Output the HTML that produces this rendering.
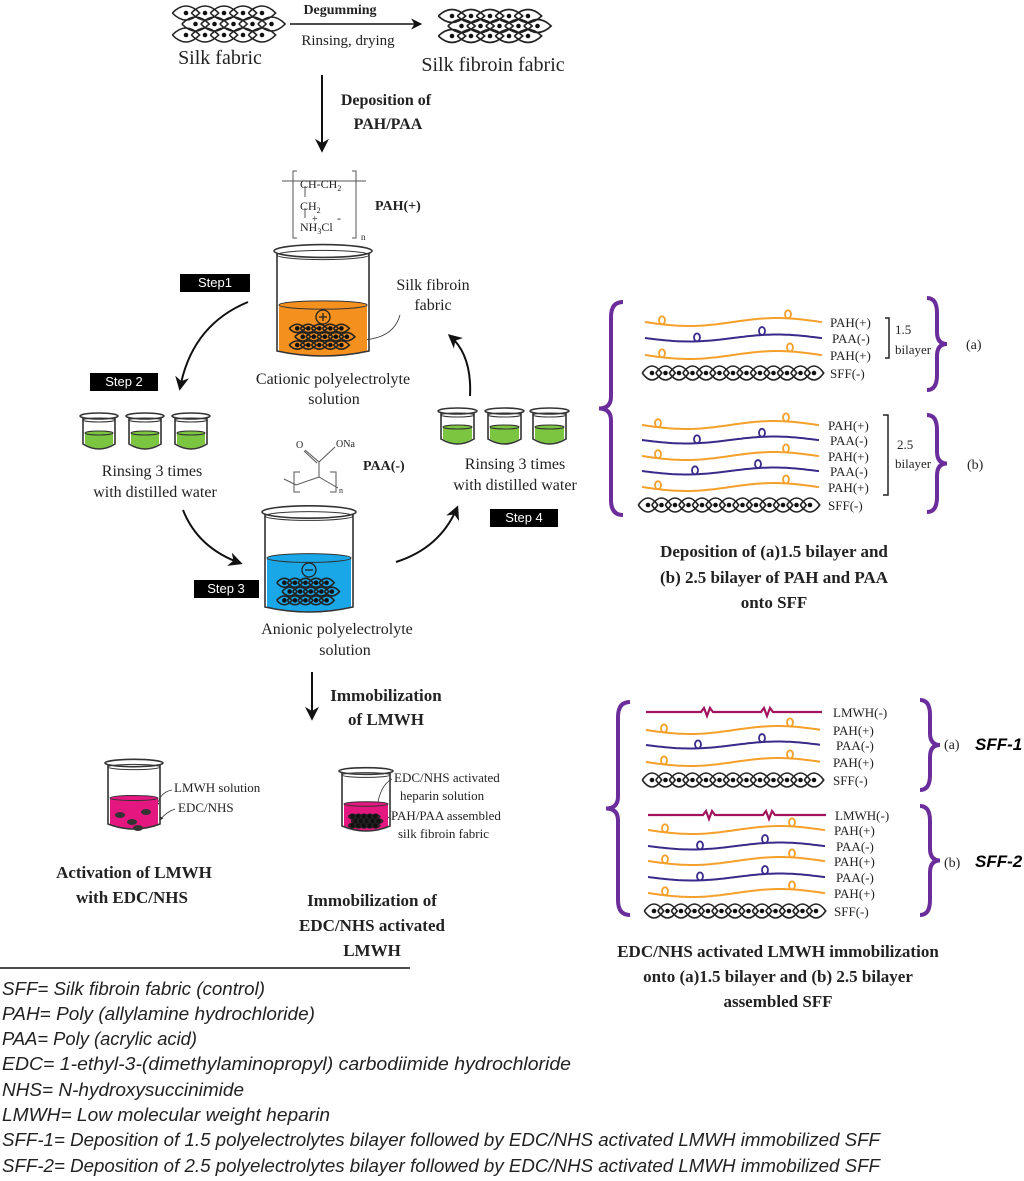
<!DOCTYPE html>
<html><head><meta charset="utf-8"><style>
html,body{margin:0;padding:0;background:#fff;}
svg{display:block;}
.s{font-family:"Liberation Serif",serif;fill:#222;}
.b{font-weight:bold;}
.it{font-family:"Liberation Sans",sans-serif;font-style:italic;fill:#222;font-size:18px;}
.st{font-family:"Liberation Sans",sans-serif;fill:#fff;font-size:13px;}
</style></head><body>
<svg id="g" width="1024" height="1181" viewBox="0 0 1024 1181" xmlns="http://www.w3.org/2000/svg">
<defs>
<marker id="ah" viewBox="0 0 10 10" refX="8" refY="5" markerWidth="7" markerHeight="7" orient="auto-start-reverse"><path d="M0,0 L10,5 L0,10 L3,5z" fill="#111"/></marker>
<marker id="ahs" viewBox="0 0 10 10" refX="8" refY="5" markerWidth="5" markerHeight="5" orient="auto"><path d="M0,1 L10,5 L0,9z" fill="#222"/></marker>
</defs>

<text class="s" x="220" y="64" font-size="20" text-anchor="middle">Silk fabric</text>
<line x1="290" y1="24" x2="420" y2="24" stroke="#111" stroke-width="1.6" marker-end="url(#ah)"/>
<text class="s b" x="340" y="14" font-size="14" text-anchor="middle">Degumming</text>
<text class="s" x="348" y="45" font-size="15" text-anchor="middle">Rinsing, drying</text>
<text class="s" x="493" y="71" font-size="20" text-anchor="middle">Silk fibroin fabric</text>

<line x1="322" y1="75" x2="322" y2="150" stroke="#111" stroke-width="2" marker-end="url(#ah)"/>
<text class="s b" x="386" y="105" font-size="16" text-anchor="middle">Deposition of</text>
<text class="s b" x="388" y="129" font-size="16" text-anchor="middle">PAH/PAA</text>

<g stroke="#555" fill="none" stroke-width="1">
<path d="M282,181 H366"/><path d="M297,171 H293 V238 H297"/><path d="M352,171 H356 V238 H352"/>
<path d="M305,186 V197"/><path d="M305,208 V218"/>
</g>
<text class="s" x="300" y="188" font-size="12">CH-CH<tspan font-size="8" dy="3">2</tspan></text>
<text class="s" x="300" y="210" font-size="12">CH<tspan font-size="8" dy="3">2</tspan></text>
<text class="s" x="300" y="231" font-size="12">NH<tspan font-size="8" dy="3">3</tspan><tspan dy="-3">Cl</tspan></text>
<text class="s" x="312" y="222" font-size="10">+</text><text class="s" x="337" y="222" font-size="12">-</text>
<text class="s" x="361" y="240" font-size="9">n</text>
<text class="s b" x="375" y="210" font-size="14">PAH(+)</text>

<rect x="180" y="274" width="70" height="18" fill="#000"/><text class="st" x="215" y="287" text-anchor="middle">Step1</text>
<rect x="90" y="373" width="68" height="18" fill="#000"/><text class="st" x="124" y="386" text-anchor="middle">Step 2</text>
<rect x="194" y="580" width="65" height="18" fill="#000"/><text class="st" x="226" y="593" text-anchor="middle">Step 3</text>
<rect x="490" y="509" width="68" height="18" fill="#000"/><text class="st" x="524" y="522" text-anchor="middle">Step 4</text>

<g fill="none" stroke="#111" stroke-width="2">
<path d="M248,302 Q192,325 180,388" marker-end="url(#ah)"/>
<path d="M183,510 Q198,548 240,563" marker-end="url(#ah)"/>
<path d="M396,562 Q440,548 457,508" marker-end="url(#ah)"/>
<path d="M470,396 Q472,355 450,336" marker-end="url(#ah)"/>
</g>

<text class="s" x="333" y="384" font-size="16" text-anchor="middle">Cationic polyelectrolyte</text>
<text class="s" x="334" y="404" font-size="16" text-anchor="middle">solution</text>
<text class="s" x="433" y="290" font-size="16" text-anchor="middle">Silk fibroin</text>
<text class="s" x="433" y="310" font-size="16" text-anchor="middle">fabric</text>
<path d="M400,315 Q393,340 358,340" fill="none" stroke="#333" stroke-width="0.8" marker-end="url(#ahs)"/>

<text class="s" x="152" y="476" font-size="16" text-anchor="middle">Rinsing 3 times</text>
<text class="s" x="155" y="497" font-size="16" text-anchor="middle">with distilled water</text>
<text class="s" x="515" y="469" font-size="16" text-anchor="middle">Rinsing 3 times</text>
<text class="s" x="515" y="490" font-size="16" text-anchor="middle">with distilled water</text>

<g stroke="#555" fill="none" stroke-width="1">
<path d="M284,479 L296,485 L319,477 L338,488"/><path d="M300,472 H294 V492 H300"/><path d="M330,472 H336 V492 H330"/>
<path d="M319,477 V462 L305,450"/><path d="M317,463 L304,451"/><path d="M319,462 L335,447"/>
</g>
<text class="s" x="296" y="448" font-size="10">O</text><text class="s" x="336" y="447" font-size="10">ONa</text>
<text class="s" x="339" y="493" font-size="8">n</text>
<text class="s b" x="363" y="470" font-size="14">PAA(-)</text>

<text class="s" x="337" y="634" font-size="16" text-anchor="middle">Anionic polyelectrolyte</text>
<text class="s" x="345" y="655" font-size="16" text-anchor="middle">solution</text>

<line x1="312" y1="672" x2="312" y2="718" stroke="#111" stroke-width="2" marker-end="url(#ah)"/>
<text class="s b" x="386" y="701" font-size="17" text-anchor="middle">Immobilization</text>
<text class="s b" x="386" y="725" font-size="17" text-anchor="middle">of LMWH</text>

<text class="s" x="174" y="792" font-size="13">LMWH solution</text>
<text class="s" x="178" y="812" font-size="13">EDC/NHS</text>
<path d="M172,790 Q160,792 157,806" fill="none" stroke="#333" stroke-width="0.8" marker-end="url(#ahs)"/>
<path d="M175,809 Q166,812 160,820" fill="none" stroke="#333" stroke-width="0.8" marker-end="url(#ahs)"/>
<text class="s" x="394" y="782" font-size="13">EDC/NHS activated</text>
<text class="s" x="400" y="800" font-size="13">heparin solution</text>
<text class="s" x="391" y="820" font-size="13">PAH/PAA assembled</text>
<text class="s" x="398" y="838" font-size="13">silk fibroin fabric</text>
<path d="M392,779 Q380,785 377,808" fill="none" stroke="#333" stroke-width="0.8" marker-end="url(#ahs)"/>
<path d="M389,817 Q385,820 380,824" fill="none" stroke="#333" stroke-width="0.8"/>

<text class="s b" x="134" y="878" font-size="17" text-anchor="middle">Activation of LMWH</text>
<text class="s b" x="132" y="903" font-size="17" text-anchor="middle">with EDC/NHS</text>
<text class="s b" x="372" y="906" font-size="17" text-anchor="middle">Immobilization of</text>
<text class="s b" x="372" y="931" font-size="17" text-anchor="middle">EDC/NHS activated</text>
<text class="s b" x="372" y="956" font-size="17" text-anchor="middle">LMWH</text>

<line x1="0" y1="968" x2="410" y2="968" stroke="#111" stroke-width="1.5"/>
<text class="it" x="2" y="995" textLength="263" lengthAdjust="spacingAndGlyphs">SFF= Silk fibroin fabric (control)</text>
<text class="it" x="2" y="1020" textLength="313" lengthAdjust="spacingAndGlyphs">PAH= Poly (allylamine hydrochloride)</text>
<text class="it" x="2" y="1045" textLength="195" lengthAdjust="spacingAndGlyphs">PAA= Poly (acrylic acid)</text>
<text class="it" x="2" y="1070" textLength="569" lengthAdjust="spacingAndGlyphs">EDC= 1-ethyl-3-(dimethylaminopropyl) carbodiimide hydrochloride</text>
<text class="it" x="2" y="1096" textLength="242" lengthAdjust="spacingAndGlyphs">NHS= N-hydroxysuccinimide</text>
<text class="it" x="2" y="1121" textLength="328" lengthAdjust="spacingAndGlyphs">LMWH= Low molecular weight heparin</text>
<text class="it" x="2" y="1146" textLength="878" lengthAdjust="spacingAndGlyphs">SFF-1= Deposition of 1.5  polyelectrolytes bilayer followed by EDC/NHS activated LMWH immobilized SFF</text>
<text class="it" x="2" y="1172" textLength="878" lengthAdjust="spacingAndGlyphs">SFF-2= Deposition of 2.5  polyelectrolytes bilayer followed by EDC/NHS activated LMWH immobilized SFF</text>

<g class="s" font-size="13">
<text x="830" y="327">PAH(+)</text><text x="832" y="343">PAA(-)</text><text x="830" y="360">PAH(+)</text><text x="830" y="378">SFF(-)</text>
<text x="828" y="430">PAH(+)</text><text x="830" y="445">PAA(-)</text><text x="828" y="461">PAH(+)</text><text x="830" y="476">PAA(-)</text><text x="828" y="492">PAH(+)</text><text x="828" y="510">SFF(-)</text>
<text x="895" y="334">1.5</text><text x="895" y="354">bilayer</text>
<text x="897" y="449">2.5</text><text x="895" y="468">bilayer</text>
<text x="966" y="349" font-size="14">(a)</text><text x="967" y="469" font-size="14">(b)</text>
<text x="833" y="717">LMWH(-)</text><text x="833" y="735">PAH(+)</text><text x="836" y="750">PAA(-)</text><text x="833" y="767">PAH(+)</text><text x="833" y="785">SFF(-)</text>
<text x="835" y="820">LMWH(-)</text><text x="834" y="835">PAH(+)</text><text x="836" y="851">PAA(-)</text><text x="834" y="866">PAH(+)</text><text x="836" y="882">PAA(-)</text><text x="834" y="898">PAH(+)</text><text x="834" y="916">SFF(-)</text>
<text x="944" y="749" font-size="14">(a)</text><text x="944" y="867" font-size="14">(b)</text>
</g>
<text x="975" y="750" font-family="Liberation Sans,sans-serif" font-weight="bold" font-style="italic" font-size="17">SFF-1</text>
<text x="975" y="867" font-family="Liberation Sans,sans-serif" font-weight="bold" font-style="italic" font-size="17">SFF-2</text>
<path d="M885,318 H889 V358 H885 M883,415 H888 V495 H883" fill="none" stroke="#222" stroke-width="1.5"/>

<g class="s b" font-size="17" text-anchor="middle">
<text x="774" y="557">Deposition of (a)1.5 bilayer and</text>
<text x="774" y="583">(b) 2.5 bilayer of PAH and PAA</text>
<text x="774" y="608">onto SFF</text>
<text x="778" y="957">EDC/NHS activated LMWH immobilization</text>
<text x="778" y="982">onto (a)1.5 bilayer and (b) 2.5 bilayer</text>
<text x="778" y="1007">assembled SFF</text>
</g>
<g id="dyn"></g>
</svg>
<script>
var NS="http://www.w3.org/2000/svg",D=document.getElementById("dyn");
function el(t,a){var e=document.createElementNS(NS,t);for(var k in a)e.setAttribute(k,a[k]);D.appendChild(e);return e;}
function wave(x0,x1,y,col,loops,amp){var d="M"+x0+","+y;for(var x=x0;x<=x1;x+=3){d+=" L"+x+","+(y+amp*Math.sin((x-x0)/28)).toFixed(1);}
el("path",{d:d,fill:"none",stroke:col,"stroke-width":2});
loops.forEach(function(lx){var ly=y+amp*Math.sin((lx-x0)/28);el("ellipse",{cx:lx,cy:ly-4,rx:3,ry:4,fill:"none",stroke:col,"stroke-width":1.8});});}
function lmwh(x0,x1,y){var c="#a3135e";var d="M"+x0+","+y+" L"+(x0+55)+","+y+" l3,-4 l3,8 l3,-8 l3,4 L"+(x0+115)+","+y+" l3,-4 l3,8 l3,-8 l3,4 L"+x1+","+y;el("path",{d:d,fill:"none",stroke:c,"stroke-width":2.2});}
function chain(x0,n,y,w,hh){hh=hh||14;for(var i=0;i<n;i++){var cx=x0+i*w;el("path",{d:"M"+(cx-w*0.72)+","+y+" Q"+cx+","+(y-hh)+" "+(cx+w*0.72)+","+y+" Q"+cx+","+(y+hh)+" "+(cx-w*0.72)+","+y,fill:"none",stroke:"#222","stroke-width":1.6});el("circle",{cx:cx,cy:y,r:2.3,fill:"#111"});}}
function fabric(x0,y0,nx,ny,w,h,hh){for(var j=0;j<ny;j++)chain(x0+(j%2?w/2:0),nx,y0+j*h,w,hh);}
var O="#f5a02a",B="#3a2a8a";
fabric(186,13,5,3,19,11,14);fabric(452,16,5,3,19,10,13);
wave(645,822,322,O,[662,788],4);wave(645,822,338,B,[697,762],3.5);wave(645,822,355,O,[662,790],4);chain(652,13,373,13.5);
wave(642,820,425,O,[658,786],4);wave(642,820,440,B,[697,762],3.5);wave(642,820,456,O,[658,786],4);wave(642,820,471,B,[695,758],3.5);wave(642,820,487,O,[658,786],4);chain(648,13,505,13.5);
lmwh(646,822,712);wave(646,822,730,O,[664,790],4);wave(646,822,745,B,[698,762],3.5);wave(646,822,762,O,[664,790],4);chain(652,13,780,13.5);
lmwh(648,826,815);wave(648,826,830,O,[665,792],4);wave(648,826,846,B,[700,765],3.5);wave(648,826,861,O,[665,792],4);wave(648,826,877,B,[700,765],3.5);wave(648,826,893,O,[665,792],4);chain(654,13,911,13.5);
function brace(x,y0,y1,dir,w){var m=(y0+y1)/2,t=w*dir;var d="M"+(x+t)+","+y0+" Q"+x+","+y0+" "+x+","+(y0+15)+" L"+x+","+(m-12)+" Q"+x+","+m+" "+(x-t)+","+m+" Q"+x+","+m+" "+x+","+(m+12)+" L"+x+","+(y1-15)+" Q"+x+","+y1+" "+(x+t)+","+y1;el("path",{d:d,fill:"none",stroke:"#6a2d9b","stroke-width":4});}
brace(611,302,515,1,12);brace(937,298,390,-1,10);brace(937,415,512,-1,10);
brace(618,702,915,1,12);brace(930,700,790,-1,10);brace(930,806,915,-1,10);
function beaker(x,y,w,h,liq,lh,fab,sign){
 if(liq){el("path",{d:"M"+(x+2)+","+(y+h-lh)+" L"+(x+w-2)+","+(y+h-lh)+" L"+(x+w-2)+","+(y+h-6)+" Q"+(x+w/2)+","+(y+h+3)+" "+(x+2)+","+(y+h-6)+"z",fill:liq});
 el("ellipse",{cx:x+w/2,cy:y+h-lh,rx:w/2-2,ry:Math.max(2,lh*0.08),fill:liq,stroke:"#333","stroke-width":1});}
 el("path",{d:"M"+x+","+(y+8)+" L"+x+","+(y+h-6)+" Q"+(x+w/2)+","+(y+h+4)+" "+(x+w)+","+(y+h-6)+" L"+(x+w)+","+(y+8),fill:"none",stroke:"#333","stroke-width":1.6});
 el("ellipse",{cx:x+w/2,cy:y+6,rx:w/2+3,ry:Math.max(3,w*0.07),fill:"none",stroke:"#333","stroke-width":1.6});
 el("ellipse",{cx:x+w/2,cy:y+10,rx:w/2,ry:Math.max(2,w*0.05),fill:"none",stroke:"#333","stroke-width":1});
 if(fab)fabric(x+w*0.22,y+h-lh*0.55,5,3,w*0.12,lh*0.16,lh*0.16);
 if(sign){el("circle",{cx:x+w/2,cy:y+h-lh+12,r:7,fill:"none",stroke:"#222","stroke-width":1.3});el("path",{d:"M"+(x+w/2-4)+","+(y+h-lh+12)+" h8"+(sign>0?" M"+(x+w/2)+","+(y+h-lh+8)+" v8":""),stroke:"#222","stroke-width":1.3});}
}
beaker(277,245,92,112,"#f4901e",52,1,1);
beaker(265,506,88,107,"#1aa7e8",55,1,-1);
var G="#7cc540";
[83,129,175].forEach(function(x){beaker(x,410,32,40,G,17);});
[441,488,533].forEach(function(x){beaker(x,405,33,40,G,18);});
beaker(108,757,52,73,"#e3177f",32,0);
[[120,815],[132,822],[146,812],[138,828]].forEach(function(p){el("ellipse",{cx:p[0],cy:p[1],rx:5,ry:3,fill:"#333"});});
beaker(342,765,48,67,"#e3177f",28,1);
</script>
</body></html>
